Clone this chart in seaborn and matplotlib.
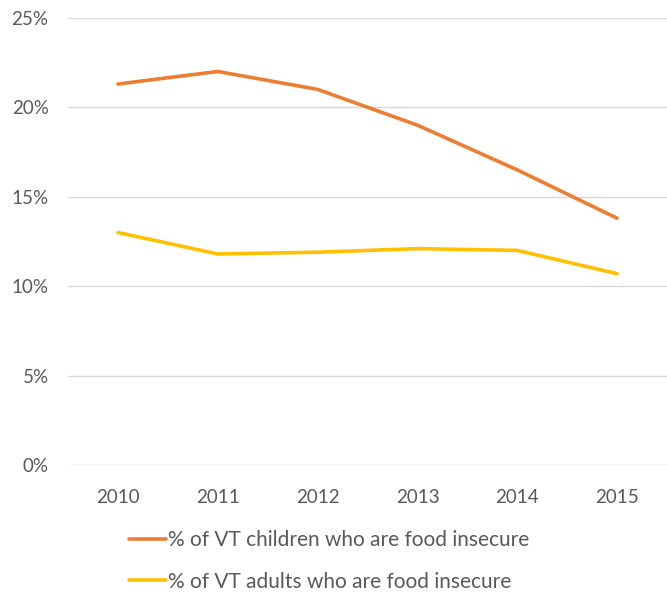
import matplotlib
matplotlib.use("Agg")
import matplotlib.pyplot as plt
import seaborn as sns
import pandas as pd
from matplotlib.ticker import PercentFormatter

# Dados
anos = ["2010", "2011", "2012", "2013", "2014", "2015"]
criancas = [21.3, 22.0, 21.0, 19.0, 16.5, 13.8]
adultos = [13.0, 11.8, 11.9, 12.1, 12.0, 10.7]
series = ["% of VT children who are food insecure", "% of VT adults who are food insecure"]
cores = ["#ED7D31", "#FFC000"]

df = pd.DataFrame({
    "ano": anos * 2,
    "valor": criancas + adultos,
    "serie": [series[0]] * len(anos) + [series[1]] * len(anos),
})

sns.set_style("white")
plt.rcParams["font.family"] = ["Lato", "DejaVu Sans"]

fig = plt.figure(figsize=(6.67, 5.94), dpi=100)
ax = fig.add_axes([0.102, 0.217, 0.898, 0.753])

sns.lineplot(data=df, x="ano", y="valor", hue="serie", palette=cores,
             linewidth=2.6, sort=False, ax=ax, legend=True)

ax.set_ylim(0, 25)
ax.set_xlim(-0.5, 5.5)
ax.set_yticks([0, 5, 10, 15, 20, 25])
ax.yaxis.set_major_formatter(PercentFormatter(decimals=0))
ax.grid(axis="y", color="#d9d9d9", linewidth=1)
ax.set_axisbelow(True)
ax.set_xlabel("")
ax.set_ylabel("")
ax.tick_params(axis="both", length=0, labelsize=13.5, labelcolor="#595959")
ax.tick_params(axis="x", pad=17)
ax.tick_params(axis="y", pad=14)
sns.despine(left=True, bottom=True, right=True, top=True)

handles, labels = ax.get_legend_handles_labels()
ax.get_legend().remove()
leg = fig.legend(handles, labels, loc="upper left", bbox_to_anchor=(0.181, 0.122),
                 frameon=False, fontsize=15, handlelength=1.75, handletextpad=0.1,
                 labelspacing=1.05, borderaxespad=0)
for t in leg.get_texts():
    t.set_color("#595959")

fig.savefig("out.png", dpi=100)
